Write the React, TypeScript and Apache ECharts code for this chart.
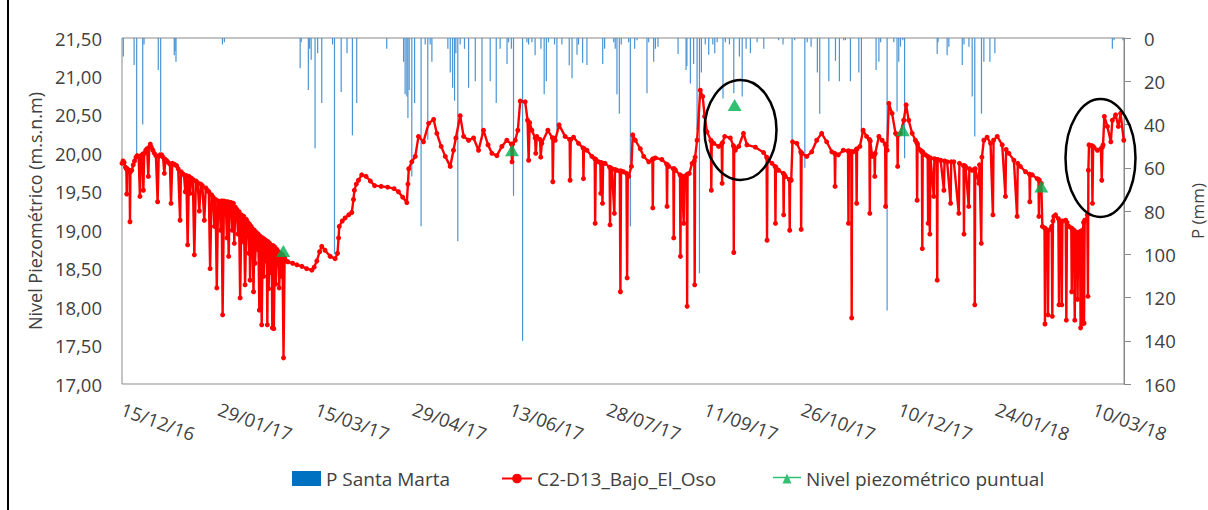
import React, { useEffect, useRef } from 'react';
import * as echarts from 'echarts';

// ---- axis definitions ----
const START_UTC = Date.UTC(2016, 11, 15); // day 0 = 15/12/16
const X_MAX_DAY = 464;
const X_STEP_DAYS = 45;
const LEVEL_MIN = 17;
const LEVEL_MAX = 21.5;
const LEVEL_STEP = 0.5;
const RAIN_MIN = 0;
const RAIN_MAX = 160;
const RAIN_STEP = 20;

const SERIES_NAMES = ['P Santa Marta', 'C2-D13_Bajo_El_Oso', 'Nivel piezométrico puntual'];

// ---- rainfall P Santa Marta: [day since 15/12/16, mm] ----
const RAIN: [number, number][] = [
  [0.6, 8.6], [5.6, 12.5], [6.8, 54], [9.6, 40], [10.2, 3], [16.8, 14.8], [17.9, 52.6], [24.2, 8], [24.6, 6], [25, 11],
  [46.5, 3], [47.4, 2], [82.5, 14], [83, 2], [86.3, 24], [86.9, 5], [87.6, 10], [89.4, 51], [90.6, 7], [92.5, 30],
  [97.5, 3], [98.4, 100], [101.5, 25], [104.2, 7], [106.7, 45], [108.7, 30], [122.6, 5], [130.4, 11], [131.1, 26],
  [131.9, 27], [132.4, 37], [133, 24], [134.2, 64], [135.5, 30], [138.5, 87], [140.4, 3], [141.6, 47], [142.7, 3],
  [143.5, 11], [150.9, 5], [152, 16], [153.1, 23], [154, 29], [154.6, 7], [155.5, 94], [156.6, 3], [158.6, 5],
  [160.5, 23], [163.6, 20], [166.7, 47], [170.5, 20], [173.3, 30], [175.1, 5], [178.3, 12], [179, 2], [180.3, 5],
  [181.3, 73], [185.5, 140], [187.5, 2], [188.3, 3], [189.8, 2], [191.3, 8], [194, 5], [195.5, 26], [196.5, 20],
  [197.5, 2], [200.3, 3], [201.4, 42.5], [203.7, 3], [207.1, 12.6], [208.4, 18.6], [210.7, 7.7], [211.4, 3],
  [213.3, 11.4], [215.3, 12.5], [222.6, 12], [223.5, 5], [227.7, 2], [228.4, 5], [229.2, 26], [230.3, 35], [231.2, 3],
  [234.6, 2], [235.4, 87], [237.4, 5], [238.5, 1], [243.1, 25.6], [243.9, 2], [246.2, 11], [247, 5], [248.2, 4],
  [257.5, 7.4], [261.2, 14.8], [261.6, 13], [263.2, 21], [264.7, 12], [266.3, 42.5], [267.4, 108.8], [268.3, 16],
  [270.1, 3], [271.7, 7.7], [273.6, 3], [274.5, 7], [275.6, 2], [278.3, 28], [279.4, 2], [281.3, 3], [283.3, 25.6],
  [285.9, 8.6], [287.2, 27], [289, 5], [291, 7], [294.1, 2], [297.2, 5], [304.1, 1], [306.1, 3], [310.3, 52],
  [311.5, 1], [316.2, 60], [317.3, 2], [319.1, 4], [322, 16], [323.1, 35], [327.3, 20], [330.4, 10.6], [332.2, 20],
  [334.2, 1], [335, 1], [337.3, 20], [341.2, 16], [342.4, 44], [349.2, 14.8], [350.5, 11], [351.3, 2], [354.3, 126],
  [357.4, 2], [358.9, 34], [359.7, 11], [360.5, 4], [361.6, 1], [362.4, 55.6], [377.5, 7.4], [377.9, 2], [382.1, 8],
  [382.9, 4], [389.1, 12.5], [389.9, 3], [392.2, 4], [393.7, 27], [394.9, 45.6], [398, 35], [399.1, 11], [401.9, 11],
  [404.2, 7], [458.6, 5], [459.4, 1], [463.5, 1],
];

// ---- piezometer C2-D13_Bajo_El_Oso: [day since 15/12/16, m.s.n.m] ----
const LEVEL: [number, number][] = [
  [0, 19.87], [0.5, 19.9], [1, 19.88], [1.6, 19.82], [2, 19.8], [2.2, 19.47], [2.4, 19.8], [3, 19.78], [3.5, 19.76],
  [3.7, 19.11], [3.9, 19.76], [4.5, 19.78], [5.2, 19.85], [5.8, 19.9], [6.5, 19.95], [7, 19.97], [7.7, 19.96],
  [8.3, 19.44], [8.8, 19.97], [9.5, 19.99], [9.9, 19.52], [10.3, 20.0], [11, 20.04], [11.6, 20.06], [12.2, 19.7],
  [12.6, 20.08], [13.1, 20.12], [13.6, 20.08], [14.3, 20.04], [15, 20.0], [15.7, 19.97], [16.5, 19.37], [17, 19.96],
  [17.6, 19.98], [18.4, 19.98], [19, 19.95], [19.6, 19.74], [20.1, 19.92], [20.8, 19.9], [21.5, 19.88], [22.2, 19.86],
  [22.7, 19.35], [23.3, 19.87], [24, 19.86], [24.6, 19.85], [25.3, 19.84], [26, 19.8], [26.9, 19.13], [27.3, 19.76],
  [28, 19.74], [28.7, 19.72], [29.3, 19.5], [29.8, 19.71], [30.4, 18.81], [31, 19.7], [31.5, 19.48], [32, 19.68],
  [32.8, 19.66], [33.5, 18.68], [34.2, 19.64], [35, 19.62], [35.8, 19.25], [36.5, 19.6], [37.2, 19.58], [38.1, 19.13],
  [38.8, 19.55], [39.5, 19.52], [40.2, 19.5], [40.8, 18.5], [41.5, 19.46], [42.2, 19.43], [42.8, 19.05], [43.3, 19.4],
  [43.9, 18.25], [44.5, 19.38], [45.2, 19.37], [45.7, 19.0], [46.1, 19.38], [46.6, 17.9], [47.2, 19.38], [48, 19.37],
  [48.6, 18.9], [49, 19.37], [49.4, 18.66], [49.9, 19.36], [50.6, 19.36], [51.1, 19.0], [51.6, 19.35], [52, 18.83],
  [52.5, 19.3], [53.2, 19.27], [53.7, 18.95], [54.2, 19.24], [54.7, 18.12], [55.3, 19.2], [55.8, 18.85], [56.4, 19.18],
  [57, 18.29], [57.6, 19.14], [58.3, 19.1], [58.8, 18.7], [59, 19.08], [59.3, 18.35], [59.8, 19.05], [60.4, 19.02],
  [60.9, 18.2], [61.3, 19.0], [61.6, 18.57], [62.2, 18.97], [62.7, 18.75], [63.1, 18.95], [63.6, 17.96], [64.1, 18.92],
  [64.7, 17.77], [65.2, 18.9], [65.6, 18.4], [66.1, 18.88], [66.6, 18.6], [67, 18.86], [67.3, 17.77], [67.6, 18.85],
  [67.9, 18.24], [68.4, 18.83], [68.9, 18.45], [69.3, 18.8], [69.6, 17.73], [70, 18.8], [70.3, 17.72], [70.8, 18.78],
  [71.2, 18.3], [71.7, 18.75], [72, 18.55], [72.5, 18.72], [72.8, 18.25], [73.3, 18.7], [73.8, 18.4], [74.3, 18.68],
  [74.8, 17.34], [75.3, 18.64], [76, 18.6], [76.8, 18.59], [79, 18.57], [81, 18.55], [83.3, 18.53], [85.5, 18.5],
  [87.9, 18.48], [89, 18.52], [90.2, 18.6], [91.5, 18.72], [92.5, 18.79], [94, 18.74], [96.4, 18.66], [98.7, 18.63],
  [99.8, 18.7], [100.3, 18.9], [100.6, 19.05], [102, 19.12], [103.3, 19.16], [105, 19.2], [106.4, 19.23], [107.2, 19.4],
  [107.6, 19.52], [108.5, 19.6], [109.5, 19.65], [111, 19.72], [113, 19.7], [115, 19.64], [117, 19.58], [120, 19.57],
  [123, 19.56], [126, 19.54], [128, 19.5], [130, 19.43], [131.9, 19.36], [132.4, 19.6], [132.8, 19.8], [134.2, 19.89],
  [135.8, 19.96], [137.3, 20.22], [139.6, 20.15], [142, 20.39], [144.3, 20.44], [145.8, 20.26], [147.8, 20.09],
  [149.7, 19.96], [152, 19.83], [153.5, 20.04], [154.6, 20.2], [156.6, 20.49], [158.2, 20.22], [160.5, 20.17],
  [162.8, 20.2], [165.1, 20.04], [167.4, 20.3], [169.5, 20.11], [171.3, 20.0], [173.6, 19.97], [175.9, 20.09],
  [178.2, 20.17], [180.3, 20.12], [180.6, 19.89], [180.9, 20.12], [182.1, 20.17], [183.3, 20.3], [184.4, 20.68],
  [186.7, 20.67], [187.8, 20.43], [188.3, 19.91], [188.8, 20.4], [189.8, 20.3], [191.3, 20.2], [191.6, 20.0],
  [192.1, 20.22], [193.6, 20.18], [193.9, 19.95], [194.4, 20.13], [197.2, 20.3], [199.3, 20.2], [199.5, 19.63],
  [199.8, 20.2], [200.6, 20.17], [202.4, 20.37], [205.2, 20.22], [207.3, 20.18], [207.5, 19.65], [207.8, 20.18],
  [209.1, 20.21], [211.4, 20.13], [213.5, 20.07], [213.7, 19.67], [213.9, 20.06], [215.3, 20.04], [217.6, 19.96],
  [218.9, 19.93], [219.1, 19.09], [219.4, 19.92], [220.7, 19.89], [221.5, 19.88], [221.7, 19.48], [222, 19.88],
  [222.5, 19.35], [222.8, 19.87], [223.7, 19.87], [225.8, 19.82], [226, 19.07], [226.3, 19.81], [226.8, 19.8],
  [228, 19.22], [228.3, 19.79], [229.1, 19.78], [230.5, 19.77], [230.8, 18.2], [231.1, 19.77], [232.2, 19.76],
  [233.6, 19.74], [233.9, 18.38], [234.2, 19.72], [234.6, 19.7], [235.9, 19.83], [236.5, 20.24], [237.7, 20.17],
  [240, 20.06], [241.6, 19.96], [243.9, 19.89], [245.6, 19.92], [245.8, 19.29], [246, 19.93], [247, 19.94], [250, 19.92],
  [252.2, 19.86], [252.4, 19.31], [252.6, 19.85], [253.2, 19.83], [255.3, 19.8], [255.5, 18.9], [255.7, 19.8],
  [256.3, 19.78], [258.4, 19.72], [258.6, 18.66], [258.8, 19.71], [259.3, 19.7], [260.1, 19.09], [260.5, 19.7],
  [261.5, 19.72], [261.7, 18.01], [261.9, 19.73], [262.7, 19.74], [264, 19.87], [265, 19.9], [265.2, 18.29],
  [265.4, 19.95], [266.3, 20.17], [267.8, 20.82], [268.9, 20.74], [269.8, 20.48], [270.9, 20.28], [272.7, 20.17],
  [272.9, 19.52], [273.1, 20.15], [274, 20.13], [276.3, 20.09], [277.7, 20.12], [277.9, 19.61], [278.1, 20.14],
  [279.1, 20.22], [281.7, 20.2], [283.1, 20.1], [283.3, 18.71], [283.5, 20.08], [284, 20.04], [285.6, 20.09],
  [287.8, 20.26], [289.4, 20.11], [293.3, 20.08], [297.1, 20.01], [298.5, 19.95], [298.7, 18.87], [298.9, 19.94],
  [299.4, 19.91], [301, 19.87], [302.4, 19.83], [302.6, 19.09], [302.8, 19.82], [304, 19.78], [306.2, 19.74],
  [306.4, 19.2], [306.6, 19.73], [307.2, 19.7], [309, 19.66], [309.2, 19.0], [309.4, 19.65], [309.9, 19.65],
  [310.5, 20.15], [312.5, 20.13], [314.3, 20.02], [314.5, 19.01], [314.7, 20.0], [314.8, 20.0], [317.1, 19.96],
  [319.4, 20.02], [321.7, 20.17], [324, 20.26], [326.3, 20.15], [328.7, 20.02], [330, 20.0], [330.2, 19.57],
  [330.4, 19.99], [331.7, 19.98], [334, 20.04], [336.2, 20.03], [336.4, 19.09], [336.6, 20.03], [337.7, 20.02],
  [337.9, 17.86], [338.1, 20.02], [338.6, 20.02], [340, 20.05], [340.2, 19.35], [340.4, 20.06], [341.7, 20.09],
  [343.2, 20.3], [344.8, 20.22], [346.1, 20.18], [346.3, 19.22], [346.5, 20.16], [347.4, 19.96], [348.4, 19.98],
  [348.6, 19.7], [348.8, 20.0], [350.5, 20.22], [352, 20.17], [353.4, 20.12], [353.6, 19.31], [353.8, 20.1],
  [354.3, 20.04], [355.1, 20.65], [356.6, 20.52], [358.2, 20.26], [359, 20.24], [359.2, 19.83], [359.4, 20.24],
  [360.5, 20.26], [362, 20.43], [363.1, 20.63], [364.3, 20.43], [365.9, 20.26], [367.4, 20.17], [368, 20.14],
  [368.2, 19.39], [368.4, 20.12], [369.8, 20.04], [370.4, 20.02], [370.6, 18.76], [370.8, 20.02], [372.1, 19.98],
  [373.1, 19.96], [373.3, 19.09], [373.5, 19.95], [374.1, 18.95], [374.4, 19.94], [375.9, 19.44], [376.2, 19.93],
  [377.3, 19.92], [377.5, 18.35], [377.7, 19.92], [379.1, 19.91], [380.6, 19.52], [380.9, 19.9], [382.1, 19.89],
  [383.7, 19.35], [384, 19.89], [385.2, 19.89], [387.5, 19.22], [387.8, 19.87], [389.7, 19.84], [389.9, 18.95],
  [390.1, 19.84], [390.6, 19.83], [392.1, 19.31], [392.4, 19.8], [393.7, 19.78], [394.7, 19.79], [394.9, 18.03],
  [395.1, 19.8], [396.8, 19.61], [397.1, 19.85], [397.9, 18.83], [398.2, 19.95], [399.1, 20.17], [400.6, 20.21],
  [402.2, 20.13], [403.3, 19.2], [403.6, 20.17], [405.3, 20.22], [407.6, 20.11], [409.1, 19.44], [409.4, 20.05],
  [410.7, 20.0], [413, 19.91], [414.5, 19.18], [414.8, 19.87], [416, 19.83], [418.4, 19.76], [420.2, 19.73],
  [420.4, 19.37], [420.6, 19.72], [421.5, 19.72], [423.8, 19.67], [424.4, 19.66], [424.6, 19.18], [424.8, 19.65],
  [425.7, 19.61], [426.2, 19.05], [427.2, 19.03], [427.4, 17.78], [427.6, 19.02], [428.5, 19.0], [428.8, 17.9],
  [429.1, 19.0], [430.5, 19.05], [430.8, 17.88], [431.1, 19.12], [431.5, 19.18], [432.3, 19.2], [433.6, 19.15],
  [433.9, 18.03], [434.2, 19.12], [435, 19.11], [435.2, 18.03], [435.5, 19.12], [437, 19.13], [437.3, 17.83],
  [437.6, 19.1], [438.5, 19.05], [439.6, 19.03], [439.8, 18.2], [440, 19.02], [440.8, 19.0], [441.2, 17.83],
  [441.5, 18.98], [442.4, 18.96], [442.5, 18.1], [442.8, 18.97], [443.6, 18.98], [443.9, 17.73], [444.2, 18.99],
  [444.6, 17.78], [444.9, 19.0], [445.3, 19.1], [445.5, 17.79], [445.8, 19.13], [446.3, 19.13], [447, 19.2],
  [447.3, 18.14], [447.5, 19.78], [447.8, 20.11], [449.1, 20.1], [449.4, 19.35], [449.7, 20.09], [450.2, 20.07],
  [451.7, 20.04], [453.3, 20.06], [453.7, 19.65], [454, 20.08], [454.3, 20.11], [454.9, 20.48], [456.3, 20.35],
  [457.9, 20.15], [458.6, 20.43], [460.1, 20.5], [461.4, 20.35], [462.4, 20.52], [463.9, 20.17],
];

// ---- spot readings (Nivel piezométrico puntual) ----
const SPOT: [number, number][] = [
  [74.7, 18.73], [180.6, 20.04], [283.7, 20.63], [361.6, 20.3], [425.7, 19.57],
];

const FONT = "'Open Sans', 'Noto Sans', sans-serif";
const TEXT_COLOR = '#404040';
const AXIS_COLOR = '#898989';

function dayLabel(v: number): string {
  if (Math.abs(v % X_STEP_DAYS) > 1e-6) return '';
  const d = new Date(START_UTC + v * 86400000);
  const dd = String(d.getUTCDate()).padStart(2, '0');
  const mm = String(d.getUTCMonth() + 1).padStart(2, '0');
  const yy = String(d.getUTCFullYear() % 100).padStart(2, '0');
  return `${dd}/${mm}/${yy}`;
}

export default function App() {
  const ref = useRef<HTMLDivElement>(null);
  useEffect(() => {
    if (!ref.current) return;
    const chart = echarts.init(ref.current, undefined, { renderer: 'svg' });
    const legendText = { fontSize: 19, color: TEXT_COLOR, fontFamily: FONT };
    chart.setOption({
      animation: false,
      backgroundColor: '#ffffff',
      textStyle: { fontFamily: FONT },
      grid: {
        left: 122, right: 84, top: 38, bottom: 126, outerBoundsMode: 'none', containLabel: false,
        show: true, borderColor: AXIS_COLOR, borderWidth: 1, backgroundColor: 'transparent',
      },
      legend: [
        {
          left: 287, top: 464, itemWidth: 29, itemHeight: 15,
          data: [{ name: SERIES_NAMES[0], icon: 'rect', itemStyle: { color: '#0070C0', opacity: 1 } }],
          textStyle: legendText,
        },
        {
          left: 496, top: 464, itemWidth: 30, itemHeight: 12,
          data: [SERIES_NAMES[1]],
          textStyle: legendText,
        },
        {
          left: 768, top: 464, itemWidth: 28, itemHeight: 12,
          data: [{ name: SERIES_NAMES[2], icon: 'path://M0,5.3H28V6.7H0Z M9.5,12L14,2L18.5,12Z' }],
          textStyle: legendText,
        },
      ],
      xAxis: [{
        type: 'value', min: 0, max: X_MAX_DAY, interval: X_STEP_DAYS,
        axisLine: { show: false }, axisTick: { show: false }, splitLine: { show: false },
        axisLabel: {
          rotate: -20, margin: 24, fontSize: 18.5, color: TEXT_COLOR, fontFamily: FONT,
          showMaxLabel: false, formatter: (v: number) => dayLabel(v),
        },
      }],
      yAxis: [
        {
          type: 'value', min: LEVEL_MIN, max: LEVEL_MAX, interval: LEVEL_STEP, position: 'left',
          name: 'Nivel Piezométrico (m.s.n.m)', nameLocation: 'middle', nameGap: 72, nameRotate: 90,
          nameTextStyle: { fontSize: 18, color: TEXT_COLOR, fontFamily: FONT },
          axisLine: { show: false }, axisTick: { show: false }, splitLine: { show: false },
          axisLabel: {
            margin: 20, fontSize: 18.5, color: TEXT_COLOR, fontFamily: FONT,
            formatter: (v: number) => v.toFixed(2).replace('.', ','),
          },
        },
        {
          type: 'value', min: RAIN_MIN, max: RAIN_MAX, interval: RAIN_STEP, position: 'right', inverse: true,
          name: 'P (mm)', nameLocation: 'middle', nameGap: 65, nameRotate: 90,
          nameTextStyle: { fontSize: 17, color: TEXT_COLOR, fontFamily: FONT },
          axisLine: { show: true, lineStyle: { color: AXIS_COLOR } },
          axisTick: { show: true, length: 7, inside: false, lineStyle: { color: AXIS_COLOR } },
          splitLine: { show: false },
          axisLabel: { margin: 20, fontSize: 18.5, color: TEXT_COLOR, fontFamily: FONT },
        },
      ],
      series: [
        {
          type: 'bar', name: SERIES_NAMES[0], xAxisIndex: 0, yAxisIndex: 1,
          data: RAIN, barWidth: 1.2, itemStyle: { color: '#4A94D4' }, z: 1,
        },
        {
          type: 'line', name: SERIES_NAMES[1], xAxisIndex: 0, yAxisIndex: 0,
          data: LEVEL, symbol: 'circle', symbolSize: 5, showAllSymbol: true,
          lineStyle: { color: '#FF0000', width: 2.4 }, itemStyle: { color: '#FF0000' }, z: 3,
        },
        {
          type: 'scatter', name: SERIES_NAMES[2], xAxisIndex: 0, yAxisIndex: 0,
          data: SPOT, symbol: 'triangle', symbolSize: [14, 12],
          itemStyle: { color: '#00B050' }, z: 4,
        },
      ],
      graphic: [
        { type: 'line', shape: { x1: 8, y1: 0, x2: 8, y2: 510 }, style: { stroke: '#000', lineWidth: 2 }, z: 100 },
        { type: 'ellipse', shape: { cx: 740.5, cy: 130, rx: 36, ry: 50 }, style: { fill: 'none', stroke: '#000', lineWidth: 2.5 }, z: 100 },
        { type: 'ellipse', shape: { cx: 1100.5, cy: 158, rx: 35, ry: 59 }, style: { fill: 'none', stroke: '#000', lineWidth: 2.5 }, z: 100 },
      ],
    });
    return () => chart.dispose();
  }, []);
  return (
    <div
      ref={ref}
      style={{ position: 'fixed', left: 0, top: 0, width: 1208, height: 510, background: '#fff' }}
    />
  );
}
